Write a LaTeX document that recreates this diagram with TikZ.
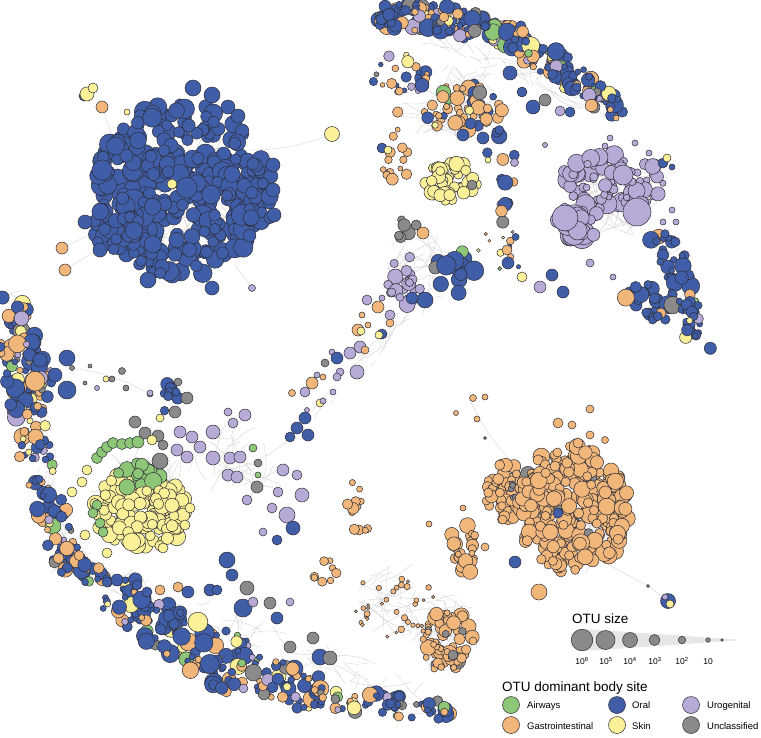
\documentclass[tikz,border=0pt]{standalone}
\usepackage{fontspec}
\setmainfont{Liberation Sans}
\definecolor{oralc}{RGB}{64,94,168}
\definecolor{gic}{RGB}{240,182,122}
\definecolor{skinc}{RGB}{250,240,152}
\definecolor{airc}{RGB}{140,198,118}
\definecolor{uroc}{RGB}{184,170,214}
\definecolor{unc}{RGB}{138,138,138}
\definecolor{rimc}{RGB}{45,45,55}
\definecolor{linkc}{RGB}{214,214,214}
\definecolor{wedgec}{RGB}{230,230,230}
\tikzset{
  otu/.style={draw=rimc,line width=.5pt},
  lk/.style={draw=linkc,line width=.4pt},
  lgtitle/.style={anchor=base west,inner sep=0pt,font=\fontsize{13.5}{15}\selectfont},
  lgentry/.style={anchor=base west,inner sep=0pt,font=\fontsize{9.5}{11}\selectfont},
  lgnum/.style={anchor=base,inner sep=0pt,font=\fontsize{8.5}{10}\selectfont}
}
% colour pickers
\newcommand\pickw[5]{\pgfmathsetmacro\pu{rnd}%
 \ifdim\pu pt<#1pt \def\col{oralc}\else
 \ifdim\pu pt<#2pt \def\col{gic}\else
 \ifdim\pu pt<#3pt \def\col{skinc}\else
 \ifdim\pu pt<#4pt \def\col{airc}\else
 \ifdim\pu pt<#5pt \def\col{uroc}\else
 \def\col{unc}\fi\fi\fi\fi\fi}
\def\pkB{\def\col{oralc}}
\def\pkO{\def\col{gic}}
\def\pkY{\def\col{skinc}}
\def\pkG{\def\col{airc}}
\def\pkP{\def\col{uroc}}
\def\pkK{\def\col{unc}}
\def\pkM{\pickw{0.55}{0.78}{0.87}{0.9}{0.95}}
\def\pkMB{\pickw{0.72}{0.84}{0.9}{0.92}{0.96}}
\def\pkTM{\pickw{0.35}{0.65}{0.8}{0.84}{0.94}}
\def\pkOK{\pickw{0}{0.96}{0.96}{0.96}{0.96}}
\def\pkOM{\pickw{0.15}{0.85}{0.9}{0.92}{0.95}}
% one circle
\newcommand\cc[4]{\filldraw[otu,fill=#4] (#1,#2) circle[radius=#3pt];}
% random blob in ellipse: cx cy rx ry n rmin rmax palette
\newcommand\blobE[8]{%
 \foreach \k in {1,...,#5}{%
  \pgfmathsetmacro\bang{360*rnd}%
  \pgfmathsetmacro\brr{sqrt(rnd)}%
  \pgfmathsetmacro\bx{#1+#3*\brr*cos(\bang)}%
  \pgfmathsetmacro\by{#2+#4*\brr*sin(\bang)}%
  \pgfmathsetmacro\bu{rnd}%
  \pgfmathsetmacro\brad{#6+(#7-#6)*\bu*\bu}%
  \csname pk#8\endcsname
  \filldraw[otu,fill=\col] (\bx,\by) circle[radius=\brad pt];
 }}
% random band along a segment: x1 y1 x2 y2 w n rmin rmax palette
\newcommand\bandS[9]{%
 \pgfmathsetmacro\bdx{#3-#1}%
 \pgfmathsetmacro\bdy{#4-#2}%
 \pgfmathsetmacro\blen{veclen(\bdx,\bdy)}%
 \foreach \k in {1,...,#6}{%
  \pgfmathsetmacro\bt{rnd}%
  \pgfmathsetmacro\bs{rand}%
  \pgfmathsetmacro\bx{#1+\bt*(\bdx)-(\bdy)/\blen*#5*\bs}%
  \pgfmathsetmacro\by{#2+\bt*(\bdy)+(\bdx)/\blen*#5*\bs}%
  \pgfmathsetmacro\bu{rnd}%
  \pgfmathsetmacro\brad{#7+(#8-#7)*\bu*\bu}%
  \csname pk#9\endcsname
  \filldraw[otu,fill=\col] (\bx,\by) circle[radius=\brad pt];
 }}
% random links along a segment: x1 y1 x2 y2 w n
\newcommand\bandE[6]{%
 \pgfmathsetmacro\bdx{#3-#1}%
 \pgfmathsetmacro\bdy{#4-#2}%
 \pgfmathsetmacro\blen{veclen(\bdx,\bdy)}%
 \foreach \k in {1,...,#6}{%
  \pgfmathsetmacro\bt{rnd}\pgfmathsetmacro\bs{0.8*rand}%
  \pgfmathsetmacro\btb{min(1,max(0,\bt+0.15*rand))}\pgfmathsetmacro\bsb{0.8*rand}%
  \pgfmathsetmacro\exa{#1+\bt*(\bdx)-(\bdy)/\blen*#5*\bs}%
  \pgfmathsetmacro\eya{#2+\bt*(\bdy)+(\bdx)/\blen*#5*\bs}%
  \pgfmathsetmacro\exb{#1+\btb*(\bdx)-(\bdy)/\blen*#5*\bsb}%
  \pgfmathsetmacro\eyb{#2+\btb*(\bdy)+(\bdx)/\blen*#5*\bsb}%
  \draw[lk] (\exa,\eya) to[bend left=15] (\exb,\eyb);
 }}
% random links inside ellipse: cx cy rx ry n
\newcommand\edgesE[5]{%
 \foreach \k in {1,...,#5}{%
  \pgfmathsetmacro\ea{360*rnd}\pgfmathsetmacro\er{sqrt(rnd)}%
  \pgfmathsetmacro\eb{360*rnd}\pgfmathsetmacro\es{sqrt(rnd)}%
  \pgfmathsetmacro\exa{#1+#3*\er*cos(\ea)}\pgfmathsetmacro\eya{#2+#4*\er*sin(\ea)}%
  \pgfmathsetmacro\exb{#1+#3*\es*cos(\eb)}\pgfmathsetmacro\eyb{#2+#4*\es*sin(\eb)}%
  \draw[lk] (\exa,\eya) to[bend left=15] (\exb,\eyb);
 }}
\begin{document}
\begin{tikzpicture}[x=1pt,y=-1pt]
\useasboundingbox (0,0) rectangle (761,737);
\fill[white] (0,0) rectangle (761,737);
\pgfmathsetseed{4242}
% ---------- links ----------
\edgesE{180}{190}{85}{85}{40}
\edgesE{612}{195}{55}{45}{40}
\edgesE{570}{510}{60}{65}{60}
\edgesE{140}{495}{55}{50}{40}
\edgesE{445}{630}{35}{45}{40}
\edgesE{395}{600}{40}{40}{25}
\edgesE{240}{460}{55}{40}{25}
\edgesE{420}{270}{35}{45}{25}
\edgesE{450}{100}{55}{45}{35}
\bandE{378}{14}{622}{113}{14}{50}
\bandE{662}{232}{702}{352}{16}{20}
\bandE{14}{292}{68}{562}{16}{40}
\bandE{58}{556}{450}{712}{22}{60}
\bandE{300}{430}{420}{300}{12}{20}
\coordinate (bcA) at (250,150); \coordinate (bcB) at (120,160);
\coordinate (bcC) at (100,230); \coordinate (bcD) at (105,245);
\coordinate (bcE) at (235,265); \coordinate (bcF) at (140,150);
\coordinate (ogA) at (600,560); \coordinate (ogB) at (648,586);
\coordinate (ogC) at (668,601);
\draw[lk] (bcA) to[bend right=10] (332,134);
\draw[lk] (bcB) -- (102,107); \draw[lk] (bcF) -- (127,112);
\draw[lk] (bcC) -- (62,248); \draw[lk] (bcD) -- (65,270);
\draw[lk] (bcE) -- (252,288);
\draw[lk] (ogA) -- (ogB) -- (ogC);
\draw[lk] (72,368) to[bend left=10] (150,394);
\draw[lk] (470,400) to[bend right=10] (520,470);
% ---------- big oral cluster ----------
\blobE{180}{190}{85}{88}{340}{5.5}{11}{B}
\blobE{115}{228}{28}{22}{30}{5.5}{9}{B}
\blobE{258}{192}{16}{40}{25}{5.5}{9}{B}
\cc{193}{88}{8}{oralc}\cc{212}{95}{8}{oralc}\cc{228}{107}{7}{oralc}\cc{238}{116}{7}{oralc}
\cc{148}{280}{8}{oralc}\cc{212}{288}{7}{oralc}\cc{85}{222}{7}{oralc}\cc{100}{250}{7}{oralc}
\cc{273}{165}{7}{oralc}\cc{273}{190}{7}{oralc}\cc{274}{215}{7}{oralc}
\cc{172}{184}{5}{skinc}
\cc{332}{134}{7.5}{skinc}
\cc{102}{107}{6}{gic}
\cc{84}{96}{5}{oralc}\cc{87}{94}{7}{skinc}\cc{93}{88}{5}{skinc}
\cc{127}{112}{3}{skinc}
\cc{62}{248}{6}{gic}\cc{65}{270}{6}{gic}
\cc{252}{288}{3.5}{uroc}
% ---------- top arc ----------
\bandS{378}{16}{440}{18}{13}{55}{3}{9}{M}
\bandS{440}{18}{512}{36}{14}{60}{3}{9}{M}
\bandS{512}{38}{578}{80}{15}{60}{3}{9}{M}
\bandS{578}{82}{622}{113}{12}{38}{3}{8}{M}
% inner top area
\blobE{400}{75}{28}{22}{25}{2}{7}{TM}
\blobE{465}{108}{42}{25}{55}{3}{8}{OM}
\blobE{395}{150}{15}{40}{16}{2.5}{6}{OK}
\blobE{500}{175}{16}{50}{16}{4}{8}{MB}
\blobE{452}{182}{27}{20}{42}{4.5}{8}{Y}
\cc{472}{185}{5}{unc}
\cc{533}{107}{7}{oralc}\cc{510}{73}{7}{oralc}\cc{522}{92}{5}{oralc}\cc{545}{100}{6}{unc}
\cc{560}{111}{5}{uroc}\cc{570}{112}{5}{oralc}\cc{463}{135}{6}{oralc}\cc{483}{138}{6}{oralc}
\cc{488}{160}{3}{skinc}\cc{382}{148}{5}{oralc}\cc{388}{150}{4}{skinc}
\blobE{500}{250}{25}{25}{12}{1.5}{4}{TM}
\cc{507}{250}{5}{gic}\cc{508}{263}{6}{oralc}\cc{522}{277}{5}{skinc}\cc{552}{275}{6}{oralc}
\cc{540}{287}{6}{uroc}\cc{563}{292}{6}{oralc}
% ---------- diagonal chain ----------
\blobE{405}{228}{14}{12}{7}{4}{7}{K}
\cc{423}{233}{6}{gic}
\blobE{405}{280}{20}{25}{20}{4}{8}{P}
\blobE{455}{272}{22}{25}{14}{6}{10}{MB}
\cc{425}{300}{8}{oralc}\cc{412}{298}{6}{oralc}
\cc{367}{300}{5}{uroc}\cc{382}{298}{3}{uroc}\cc{378}{307}{6}{gic}\cc{390}{315}{5}{uroc}
\cc{362}{315}{3}{gic}\cc{368}{325}{3}{gic}\cc{390}{323}{4}{gic}
\cc{382}{334}{5}{oralc}\cc{379}{335}{4}{skinc}
\cc{358}{330}{6}{gic}\cc{361}{331}{4}{skinc}
\cc{360}{347}{6}{uroc}\cc{365}{350}{4}{gic}\cc{350}{353}{6}{uroc}\cc{332}{352}{3}{uroc}
\cc{337}{358}{6}{oralc}\cc{325}{363}{4}{unc}\cc{357}{372}{7}{uroc}\cc{340}{372}{4}{uroc}
\cc{337}{377}{4}{uroc}\cc{317}{375}{3}{uroc}\cc{323}{377}{3}{gic}\cc{312}{383}{6}{gic}
\cc{305}{392}{5}{uroc}\cc{333}{392}{3}{uroc}\cc{320}{403}{4}{skinc}\cc{323}{401}{3}{uroc}
\cc{292}{393}{3.5}{gic}\cc{307}{410}{2.5}{uroc}
\cc{305}{418}{6}{oralc}\cc{297}{428}{6}{oralc}\cc{308}{435}{6}{oralc}\cc{290}{437}{5}{oralc}
% ---------- urogenital cluster ----------
\blobE{612}{182}{52}{28}{90}{3}{10}{P}
\blobE{578}{222}{22}{20}{30}{5}{14}{P}
\cc{565}{218}{13}{uroc}\cc{637}{212}{14}{uroc}\cc{623}{175}{10}{uroc}
\cc{545}{145}{2.5}{uroc}\cc{610}{138}{3}{uroc}\cc{605}{146}{3}{uroc}\cc{635}{143}{3}{uroc}
\cc{649}{153}{3}{uroc}\cc{672}{210}{3}{uroc}\cc{676}{222}{3}{uroc}\cc{663}{222}{3}{uroc}
\cc{590}{263}{4}{uroc}\cc{613}{277}{3}{uroc}
\cc{663}{163}{5}{oralc}\cc{667}{158}{4}{skinc}\cc{672}{167}{3}{oralc}
% ---------- right band ----------
\bandS{662}{232}{682}{292}{14}{34}{3}{9}{MB}
\bandS{632}{285}{668}{318}{14}{28}{4}{9}{MB}
\bandS{682}{292}{702}{352}{12}{28}{3}{8}{MB}
% ---------- left arc ----------
\bandS{10}{292}{24}{335}{11}{24}{3}{9}{M}
\bandS{22}{335}{32}{400}{24}{70}{3}{10}{M}
\bandS{26}{400}{38}{470}{16}{40}{3}{9}{M}
\bandS{38}{470}{68}{562}{15}{45}{3}{9}{M}
\cc{67}{358}{8}{oralc}\cc{67}{390}{9}{oralc}\cc{55}{375}{7}{oralc}\cc{40}{360}{7}{oralc}
\cc{72}{368}{2.5}{unc}\cc{90}{366}{2}{unc}\cc{85}{383}{2}{unc}\cc{97}{388}{2.5}{uroc}
\cc{106}{379}{3}{skinc}\cc{112}{379}{3}{unc}\cc{122}{371}{3.5}{unc}\cc{126}{388}{3}{unc}
\cc{150}{394}{3}{uroc}
\blobE{168}{396}{10}{16}{12}{4}{7}{B}
\cc{187}{398}{6}{unc}\cc{175}{412}{6}{unc}\cc{178}{382}{4}{unc}\cc{160}{418}{4}{skinc}
% ---------- skin / airways cluster ----------
\blobE{142}{510}{48}{40}{110}{5}{9}{Y}
\blobE{140}{474}{22}{12}{16}{5}{9}{G}
\cc{97}{458}{5.5}{airc}\cc{102}{452}{5.5}{airc}\cc{107}{447}{5.5}{airc}\cc{113}{443}{5.5}{airc}
\cc{122}{444}{5.5}{airc}\cc{130}{443}{5.5}{airc}\cc{138}{442}{6}{airc}
\cc{97}{505}{5}{airc}\cc{93}{513}{5}{airc}\cc{100}{523}{5}{airc}\cc{103}{532}{5}{airc}
\blobE{148}{518}{38}{30}{50}{5}{9}{Y}
\cc{127}{487}{8}{airc}
\cc{135}{422}{6}{unc}\cc{145}{433}{6}{unc}\cc{158}{436}{6}{unc}\cc{163}{445}{5}{unc}
\cc{160}{461}{8}{unc}\cc{152}{440}{5}{skinc}
\cc{87}{470}{5}{skinc}\cc{82}{482}{5}{skinc}\cc{72}{492}{5}{skinc}\cc{85}{535}{5}{skinc}
\cc{107}{553}{5}{skinc}\cc{163}{548}{5}{skinc}\cc{190}{508}{5}{skinc}\cc{185}{525}{5}{skinc}
% ---------- purple chain ----------
\cc{180}{432}{6}{uroc}\cc{192}{437}{6}{uroc}\cc{177}{450}{6}{uroc}\cc{187}{457}{6}{uroc}
\cc{213}{432}{7}{uroc}\cc{228}{412}{4}{uroc}\cc{245}{415}{6}{uroc}\cc{233}{423}{5}{uroc}
\cc{200}{447}{6}{uroc}\cc{213}{458}{7}{uroc}\cc{230}{458}{6}{uroc}\cc{240}{457}{6}{uroc}
\cc{228}{475}{6}{uroc}\cc{237}{477}{6}{uroc}\cc{247}{500}{5}{uroc}\cc{283}{470}{6}{uroc}
\cc{297}{475}{5}{uroc}\cc{278}{492}{5}{uroc}\cc{302}{495}{7}{uroc}\cc{287}{515}{8}{uroc}
\cc{272}{508}{5}{uroc}\cc{150}{393}{3}{uroc}
\cc{258}{463}{4}{unc}\cc{257}{487}{6}{unc}\cc{253}{448}{4}{airc}\cc{258}{475}{3}{airc}
\cc{293}{528}{7}{oralc}\cc{277}{540}{5}{oralc}\cc{263}{532}{4}{uroc}
% ---------- bottom arc ----------
\bandS{58}{556}{115}{592}{13}{36}{3}{9}{MB}
\bandS{115}{592}{170}{632}{22}{55}{3}{10}{M}
\bandS{170}{632}{240}{668}{28}{65}{3}{10}{M}
\bandS{240}{668}{320}{697}{20}{55}{3}{9}{M}
\bandS{320}{697}{450}{712}{11}{60}{3}{8}{M}
\cc{227}{560}{8}{oralc}\cc{232}{575}{6}{oralc}\cc{247}{588}{7}{unc}\cc{270}{603}{6}{unc}
\cc{243}{608}{9}{oralc}\cc{253}{602}{5}{uroc}\cc{277}{618}{6}{oralc}\cc{290}{602}{4}{uroc}
\cc{313}{638}{6}{unc}\cc{290}{647}{6}{unc}\cc{320}{657}{8}{oralc}\cc{330}{658}{7}{unc}
\cc{188}{592}{6}{oralc}\cc{178}{587}{5}{gic}\cc{160}{590}{5}{gic}\cc{147}{592}{5}{oralc}
\cc{137}{585}{5}{oralc}\cc{117}{580}{6}{oralc}\cc{107}{582}{5}{oralc}\cc{210}{590}{6}{oralc}
\cc{217}{590}{5}{oralc}
% ---------- gastrointestinal clusters ----------
\blobE{505}{492}{20}{30}{55}{4}{7}{O}
\blobE{513}{492}{5}{9}{5}{3}{5}{K}
\blobE{572}{510}{57}{64}{330}{4.5}{9}{OK}
\cc{558}{513}{5}{oralc}\cc{515}{562}{6}{oralc}\cc{539}{592}{8}{gic}
\cc{558}{423}{5}{gic}\cc{572}{425}{4}{gic}\cc{590}{409}{4}{gic}\cc{578}{443}{5}{gic}
\cc{605}{440}{3.5}{gic}\cc{590}{435}{4}{gic}
\cc{473}{398}{3.5}{gic}\cc{485}{397}{3}{gic}\cc{456}{413}{2.5}{gic}\cc{477}{419}{3}{gic}
\cc{485}{438}{1.5}{unc}\cc{463}{508}{3}{gic}\cc{429}{524}{3}{gic}\cc{485}{547}{4}{gic}
\cc{648}{586}{1.5}{unc}
\blobE{360}{505}{14}{28}{12}{3}{7}{O}
\blobE{463}{550}{14}{28}{30}{3}{8}{O}
\blobE{325}{568}{14}{15}{8}{3}{7}{O}
\blobE{395}{605}{40}{38}{35}{1.5}{4}{OK}
\blobE{448}{642}{25}{32}{75}{3}{8.5}{OK}
\cc{453}{655}{5}{unc}
% small oral group
\cc{668}{601}{7.5}{oralc}\cc{665}{597}{3}{uroc}\cc{670}{604}{4}{skinc}
% ---------- legend ----------
\fill[wedgec] (585,629) -- (736,639.5) -- (736,640.5) -- (585,651) -- cycle;
\node[lgtitle] (lgsize) at (572,623) {OTU size};
\filldraw[otu,fill=unc] (582,640) circle[radius=10.8pt];
\filldraw[otu,fill=unc] (605.5,640) circle[radius=9.5pt];
\filldraw[otu,fill=unc] (630,640) circle[radius=7.5pt];
\filldraw[otu,fill=unc] (654.5,640) circle[radius=5.5pt];
\filldraw[otu,fill=unc] (682,640) circle[radius=3.8pt];
\filldraw[otu,fill=unc] (708,640) circle[radius=2.3pt];
\filldraw[otu,fill=unc] (722,640) circle[radius=1.3pt];
\node[lgnum] (n6) at (582,664) {10\textsuperscript{6}};
\node[lgnum] (n5) at (606,664) {10\textsuperscript{5}};
\node[lgnum] (n4) at (630,664) {10\textsuperscript{4}};
\node[lgnum] (n3) at (655,664) {10\textsuperscript{3}};
\node[lgnum] (n2) at (682,664) {10\textsuperscript{2}};
\node[lgnum] (n1) at (708,664) {10};
\node[lgtitle] (lgsite) at (502,691) {OTU dominant body site};
\filldraw[otu,fill=airc] (511,705) circle[radius=8.5pt];
\node[lgentry] (eA) at (527,708) {Airways};
\filldraw[otu,fill=oralc] (617,705) circle[radius=8.5pt];
\node[lgentry] (eO) at (632,708) {Oral};
\filldraw[otu,fill=uroc] (691,705) circle[radius=8.5pt];
\node[lgentry] (eU) at (707,708) {Urogenital};
\filldraw[otu,fill=gic] (511,725) circle[radius=8.5pt];
\node[lgentry] (eG) at (527,729) {Gastrointestinal};
\filldraw[otu,fill=skinc] (617,725) circle[radius=8.5pt];
\node[lgentry] (eS) at (632,729) {Skin};
\filldraw[otu,fill=unc] (691,725) circle[radius=8.5pt];
\node[lgentry] (eK) at (707,729) {Unclassified};
\end{tikzpicture}
\end{document}
